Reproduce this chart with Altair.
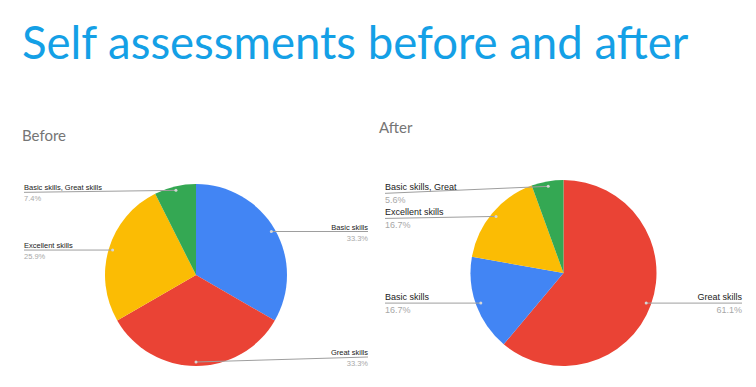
import altair as alt
import pandas as pd

# ---------------- data ----------------
TITLE = "Self assessments before and after"
PANEL_TITLES = ["Before", "After"]

CATS_BEFORE = ["Basic skills", "Great skills", "Excellent skills", "Basic skills, Great skills"]
LABELS_BEFORE = ["Basic skills", "Great skills", "Excellent skills", "Basic skills, Great skills"]
COUNTS_BEFORE = [9, 9, 7, 2]

CATS_AFTER = ["Great skills", "Basic skills", "Excellent skills", "Basic skills, Great skills"]
LABELS_AFTER = ["Great skills", "Basic skills", "Excellent skills", "Basic skills, Great"]
COUNTS_AFTER = [11, 3, 3, 1]

COLOR_DOMAIN = ["Basic skills", "Great skills", "Excellent skills", "Basic skills, Great skills"]
COLOR_RANGE = ["#4285F4", "#EA4335", "#FBBC04", "#34A853"]

# ---------------- layout ----------------
W, H = 740, 371
TITLE_COLOR = "#14a0e6"
FONT = "Liberation Sans"

BEFORE_LAYOUT = dict(cx=188, cy=267, r=91, dot_r=87, lx=16, rx=360, fsize=7.5,
                     nudges={"Basic skills, Great skills": 2, "Great skills": -5},
                     name_dy=-2, pct_dy=3)
AFTER_LAYOUT = dict(cx=555.5, cy=265, r=93, dot_r=88, lx=377, rx=734, fsize=9,
                    nudges={"Basic skills, Great skills": 7, "Excellent skills": 2},
                    name_dy=-3.5, pct_dy=2.5)

color_scale = alt.Scale(domain=COLOR_DOMAIN, range=COLOR_RANGE)


def pie_layers(cats, labels, counts, cx, cy, r, dot_r, lx, rx, fsize, nudges, name_dy, pct_dy):
    df = pd.DataFrame({
        "cat": cats,
        "label": labels,
        "count": counts,
        "order": list(range(len(cats))),
        "nudge": [nudges.get(c, 0) for c in cats],
    })
    arcs = alt.Chart(df).mark_arc(radius=r).encode(
        theta=alt.Theta("count:Q", stack=True),
        color=alt.Color("cat:N", scale=color_scale, legend=None),
        order=alt.Order("order:Q"),
        x=alt.value(cx),
        y=alt.value(cy),
    )
    base = alt.Chart(df).transform_joinaggregate(
        total="sum(count)"
    ).transform_window(
        cum="sum(count)", sort=[alt.SortField("order")]
    ).transform_calculate(
        mid="(datum.cum - datum.count / 2) / datum.total * 2 * PI",
        pct="format(datum.count / datum.total, '.1%')",
    ).transform_calculate(
        dx=f"{cx} + {dot_r} * sin(datum.mid)",
        dy=f"{cy} - {dot_r} * cos(datum.mid)",
        lx=f"datum.mid > PI ? {lx} : {rx}",
    ).transform_calculate(
        ly="datum.dy + datum.nudge",
    )
    X = lambda f: alt.X(f, scale=None, axis=None)
    Y = lambda f: alt.Y(f, scale=None, axis=None)
    rules = base.mark_rule(color="#9e9e9e", strokeWidth=1).encode(
        x=X("lx:Q"), y=Y("ly:Q"), x2="dx:Q", y2="dy:Q"
    )
    dots = base.mark_circle(size=9, color="#d6d6d6", opacity=1).encode(
        x=X("dx:Q"), y=Y("dy:Q")
    )
    layers = [rules, dots]
    for align, flt in [("left", "datum.mid > PI"), ("right", "datum.mid <= PI")]:
        names = base.transform_filter(flt).mark_text(
            align=align, baseline="alphabetic", dy=name_dy, font=FONT, fontSize=fsize, color="#222222"
        ).encode(x=X("lx:Q"), y=Y("ly:Q"), text="label:N")
        pcts = base.transform_filter(flt).mark_text(
            align=align, baseline="top", dy=pct_dy, font=FONT, fontSize=fsize, color="#a8a8a8"
        ).encode(x=X("lx:Q"), y=Y("ly:Q"), text="pct:N")
        layers += [names, pcts]
    return arcs, layers


arcs_b, lay_b = pie_layers(CATS_BEFORE, LABELS_BEFORE, COUNTS_BEFORE, **BEFORE_LAYOUT)
arcs_a, lay_a = pie_layers(CATS_AFTER, LABELS_AFTER, COUNTS_AFTER, **AFTER_LAYOUT)

title = alt.Chart(pd.DataFrame({"t": [TITLE]})).mark_text(
    align="left", baseline="alphabetic", font="Lato", fontSize=45.5, color=TITLE_COLOR
).encode(text="t:N", x=alt.value(14), y=alt.value(51))

sub_b = alt.Chart(pd.DataFrame({"t": [PANEL_TITLES[0]]})).mark_text(
    align="left", baseline="alphabetic", font="Lato", fontSize=15, color="#757575"
).encode(text="t:N", x=alt.value(14), y=alt.value(133))

sub_a = alt.Chart(pd.DataFrame({"t": [PANEL_TITLES[1]]})).mark_text(
    align="left", baseline="alphabetic", font="Lato", fontSize=15, color="#757575"
).encode(text="t:N", x=alt.value(371), y=alt.value(125))

chart = alt.layer(
    arcs_b, arcs_a, *lay_b, *lay_a, title, sub_b, sub_a
).resolve_scale(
    theta="independent"
).properties(
    width=W, height=H,
    autosize=alt.AutoSizeParams(type="none"),
    padding=0,
    background="white",
).configure_view(stroke=None)

chart.save("out.html", embed_options={"renderer": "svg", "actions": False})
